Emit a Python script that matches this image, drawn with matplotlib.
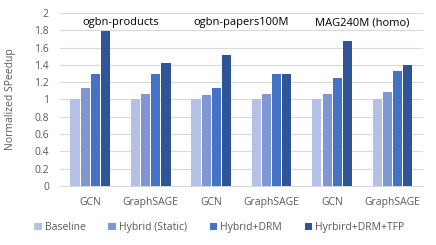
import numpy as np
import matplotlib
matplotlib.use('agg')
import matplotlib.pyplot as plt

## Data
datasets = ['ogbn-products', 'ogbn-papers100M', 'MAG240M (homo)']
models = ['GCN', 'GraphSAGE', 'GCN', 'GraphSAGE', 'GCN', 'GraphSAGE']
series = ['Baseline', 'Hybrid (Static)', 'Hybrid+DRM', 'Hyrbird+DRM+TFP']
baseline = [1.0, 1.0, 1.0, 1.0, 1.0, 1.0]
hybrid_static = [1.13, 1.06, 1.05, 1.06, 1.06, 1.09]
hybrid_drm = [1.29, 1.29, 1.13, 1.29, 1.25, 1.33]
hybrid_drm_tfp = [1.79, 1.42, 1.52, 1.29, 1.68, 1.40]

colors = ['#B4C0E4', '#7F97D3', '#4472C4', '#2F5597']
txt = '#595959'

plt.rcParams['font.family'] = ['Open Sans', 'DejaVu Sans']
plt.rcParams['font.size'] = 7.5

fig = plt.figure(figsize=(4.36, 2.45), dpi=100)
ax = fig.add_axes([0.1376, 0.2408, 0.8324, 0.7062])

x = np.arange(len(models))
w = 0.15
step = 0.168
for i, vals in enumerate([baseline, hybrid_static, hybrid_drm, hybrid_drm_tfp]):
    ax.bar(x + (i - 1.5) * step, vals, width=w, color=colors[i], label=series[i], zorder=3)

ax.set_xlim(-0.5, len(models) - 0.5)
ax.set_ylim(0, 2)
ax.set_yticks(np.arange(0, 2.01, 0.2))
ax.set_yticklabels(['0', '0.2', '0.4', '0.6', '0.8', '1', '1.2', '1.4', '1.6', '1.8', '2'])
ax.set_xticks(x)
ax.set_xticklabels(models)
ax.tick_params(length=0, colors=txt, labelsize=7.5)
ax.tick_params(axis='x', pad=8)
ax.tick_params(axis='y', pad=8)
ax.grid(axis='y', color='#D9D9D9', linewidth=0.8, zorder=0)
for s in ['top', 'right', 'left']:
    ax.spines[s].set_visible(False)
ax.spines['bottom'].set_color('#D9D9D9')
ax.set_ylabel('Normalized SPeedup', color=txt, fontsize=7.5)
ax.yaxis.set_label_coords(-0.12, 0.5)

for k, name in enumerate(datasets):
    ax.text(2 * k + 0.5, 1.89, name, ha='center', va='center', color='black', fontsize=8)

fig.legend(loc='center', bbox_to_anchor=(0.503, 0.072), ncol=4, frameon=False,
           handlelength=0.7, handleheight=0.7, handletextpad=0.3, columnspacing=2.2,
           labelcolor=txt, fontsize=7.5)

fig.savefig('out.png', dpi=100)
